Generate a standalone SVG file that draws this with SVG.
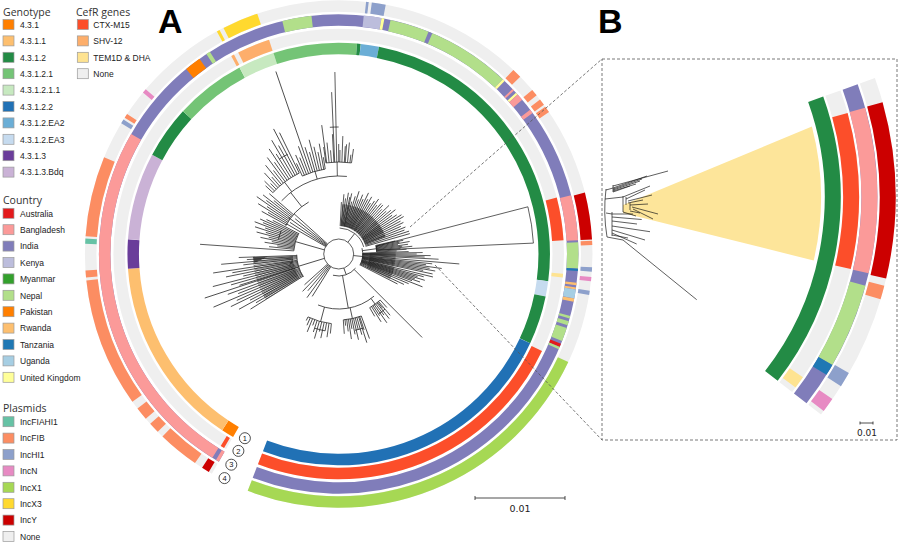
<svg xmlns="http://www.w3.org/2000/svg" width="900" height="546" viewBox="0 0 900 546">
<style>
.ttl{font-family:"Open Sans","Noto Sans",sans-serif;font-size:10.5px;fill:#333}
.lt{font-family:"Liberation Sans",Arial,sans-serif;font-size:8.5px;fill:#222}
.sw{stroke:#9a9a9a;stroke-width:0.7}
.big{font-family:"Liberation Sans",Arial,sans-serif;font-size:34px;font-weight:bold;fill:#000}
.rg circle{fill:none}
.w1 circle{stroke-width:11.5}
.w2 circle{stroke-width:16}
.g1{stroke:#ff7f00}.g2{stroke:#fdbf6f}.g3{stroke:#238b45}.g4{stroke:#74c476}.g5{stroke:#c7e9c0}.g6{stroke:#2171b5}.g7{stroke:#6baed6}.g8{stroke:#c6dbef}.g9{stroke:#6a3d9a}.g10{stroke:#cab2d6}
.ctx{stroke:#fc4e2a}.shv{stroke:#fdae6b}.tem{stroke:#fee391}.no{stroke:#efefef}
.au{stroke:#e31a1c}.bd{stroke:#fb9a99}.in{stroke:#807dba}.ke{stroke:#bcbddc}.np{stroke:#b2df8a}.pk{stroke:#ff7f00}.rw{stroke:#fdbf6f}.tz{stroke:#1f78b4}.ug{stroke:#a6cee3}.uk{stroke:#ffff99}
.fia{stroke:#66c2a5}.fib{stroke:#fc8d62}.hi1{stroke:#8da0cb}.inn{stroke:#e78ac3}.x1{stroke:#a6d854}.x3{stroke:#ffd92f}.incy{stroke:#cc0000}
.br,.br circle,.br path{fill:none;stroke:#1a1a1a;stroke-width:0.7}
.hl{fill:#fde59a;stroke:none}
.dash{fill:none;stroke:#555;stroke-width:0.8;stroke-dasharray:3 2}
.num circle{fill:#fff;stroke:#222;stroke-width:0.8}
.num text{font-family:"Liberation Sans",Arial,sans-serif;font-size:7.5px;text-anchor:middle;fill:#111}
.sc{font-family:"DejaVu Sans",sans-serif;font-size:9.5px;fill:#222;text-anchor:middle}
.scl{fill:none;stroke:#222;stroke-width:0.8}
</style>
<defs>
<clipPath id="wB"><polygon points="0,0 10.5,-149.6 90.3,-119.8 141,-51.3"/></clipPath>
<clipPath id="wC"><polygon points="0,0 149.9,-5.2 145,37 134.8,65.8"/></clipPath>
<clipPath id="wD"><polygon points="0,0 -127.2,79.5 -143,45 -149.9,5.2"/></clipPath>
</defs>
<rect width="900" height="546" fill="#fff"/>

<!-- Legend -->
<g id="legend-genotype">
<text class="ttl" x="3" y="15.5">Genotype</text>
<rect class="sw" x="3" y="19.5" width="11" height="10" fill="#ff7f00"/><text class="lt" x="20" y="27.8">4.3.1</text>
<rect class="sw" x="3" y="35.9" width="11" height="10" fill="#fdbf6f"/><text class="lt" x="20" y="44.2">4.3.1.1</text>
<rect class="sw" x="3" y="52.3" width="11" height="10" fill="#238b45"/><text class="lt" x="20" y="60.6">4.3.1.2</text>
<rect class="sw" x="3" y="68.7" width="11" height="10" fill="#74c476"/><text class="lt" x="20" y="77">4.3.1.2.1</text>
<rect class="sw" x="3" y="85.1" width="11" height="10" fill="#c7e9c0"/><text class="lt" x="20" y="93.4">4.3.1.2.1.1</text>
<rect class="sw" x="3" y="101.5" width="11" height="10" fill="#2171b5"/><text class="lt" x="20" y="109.8">4.3.1.2.2</text>
<rect class="sw" x="3" y="117.9" width="11" height="10" fill="#6baed6"/><text class="lt" x="20" y="126.2">4.3.1.2.EA2</text>
<rect class="sw" x="3" y="134.3" width="11" height="10" fill="#c6dbef"/><text class="lt" x="20" y="142.6">4.3.1.2.EA3</text>
<rect class="sw" x="3" y="150.7" width="11" height="10" fill="#6a3d9a"/><text class="lt" x="20" y="159">4.3.1.3</text>
<rect class="sw" x="3" y="167.1" width="11" height="10" fill="#cab2d6"/><text class="lt" x="20" y="175.4">4.3.1.3.Bdq</text>
</g>
<g id="legend-cefr">
<text class="ttl" x="76" y="15.5">CefR genes</text>
<rect class="sw" x="77.3" y="19.5" width="11" height="10" fill="#fc4e2a"/><text class="lt" x="93.3" y="27.8">CTX-M15</text>
<rect class="sw" x="77.3" y="35.9" width="11" height="10" fill="#fdae6b"/><text class="lt" x="93.3" y="44.2">SHV-12</text>
<rect class="sw" x="77.3" y="52.3" width="11" height="10" fill="#fee391"/><text class="lt" x="93.3" y="60.6">TEM1D &amp; DHA</text>
<rect class="sw" x="77.3" y="68.7" width="11" height="10" fill="#efefef"/><text class="lt" x="93.3" y="77">None</text>
</g>
<g id="legend-country">
<text class="ttl" x="3" y="204">Country</text>
<rect class="sw" x="3" y="208.3" width="11" height="10" fill="#e31a1c"/><text class="lt" x="20" y="216.6">Australia</text>
<rect class="sw" x="3" y="224.7" width="11" height="10" fill="#fb9a99"/><text class="lt" x="20" y="233">Bangladesh</text>
<rect class="sw" x="3" y="241.1" width="11" height="10" fill="#807dba"/><text class="lt" x="20" y="249.4">India</text>
<rect class="sw" x="3" y="257.5" width="11" height="10" fill="#bcbddc"/><text class="lt" x="20" y="265.8">Kenya</text>
<rect class="sw" x="3" y="273.9" width="11" height="10" fill="#33a02c"/><text class="lt" x="20" y="282.2">Myanmar</text>
<rect class="sw" x="3" y="290.3" width="11" height="10" fill="#b2df8a"/><text class="lt" x="20" y="298.6">Nepal</text>
<rect class="sw" x="3" y="306.7" width="11" height="10" fill="#ff7f00"/><text class="lt" x="20" y="315">Pakistan</text>
<rect class="sw" x="3" y="323.1" width="11" height="10" fill="#fdbf6f"/><text class="lt" x="20" y="331.4">Rwanda</text>
<rect class="sw" x="3" y="339.5" width="11" height="10" fill="#1f78b4"/><text class="lt" x="20" y="347.8">Tanzania</text>
<rect class="sw" x="3" y="355.9" width="11" height="10" fill="#a6cee3"/><text class="lt" x="20" y="364.2">Uganda</text>
<rect class="sw" x="3" y="372.3" width="11" height="10" fill="#ffff99"/><text class="lt" x="20" y="380.6">United Kingdom</text>
</g>
<g id="legend-plasmids">
<text class="ttl" x="3" y="412">Plasmids</text>
<rect class="sw" x="3" y="416.7" width="11" height="10" fill="#66c2a5"/><text class="lt" x="20" y="425">IncFIAHI1</text>
<rect class="sw" x="3" y="433.1" width="11" height="10" fill="#fc8d62"/><text class="lt" x="20" y="441.4">IncFIB</text>
<rect class="sw" x="3" y="449.5" width="11" height="10" fill="#8da0cb"/><text class="lt" x="20" y="457.8">IncHI1</text>
<rect class="sw" x="3" y="465.9" width="11" height="10" fill="#e78ac3"/><text class="lt" x="20" y="474.2">IncN</text>
<rect class="sw" x="3" y="482.3" width="11" height="10" fill="#a6d854"/><text class="lt" x="20" y="490.6">IncX1</text>
<rect class="sw" x="3" y="498.7" width="11" height="10" fill="#ffd92f"/><text class="lt" x="20" y="507">IncX3</text>
<rect class="sw" x="3" y="515.1" width="11" height="10" fill="#cc0000"/><text class="lt" x="20" y="523.4">IncY</text>
<rect class="sw" x="3" y="531.5" width="11" height="10" fill="#efefef"/><text class="lt" x="20" y="539.8">None</text>
</g>

<text id="label-A" class="big" x="158" y="33">A</text>
<text id="label-B" class="big" x="598" y="33">B</text>

<!-- Panel A rings -->
<g id="rings-A" class="rg w1" transform="translate(338.7 254)">
<g id="ring-genotype">
<circle r="205.5" pathLength="360" stroke-dasharray="3.5 999" transform="rotate(120)" class="g1"/>
<circle r="205.5" pathLength="360" stroke-dasharray="52.5 999" transform="rotate(123.5)" class="g2"/>
<circle r="205.5" pathLength="360" stroke-dasharray="8 999" transform="rotate(176)" class="g9"/>
<circle r="205.5" pathLength="360" stroke-dasharray="24 999" transform="rotate(184)" class="g10"/>
<circle r="205.5" pathLength="360" stroke-dasharray="14.5 999" transform="rotate(208)" class="g3"/>
<circle r="205.5" pathLength="360" stroke-dasharray="19.5 999" transform="rotate(222.5)" class="g4"/>
<circle r="205.5" pathLength="360" stroke-dasharray="10 999" transform="rotate(242)" class="g5"/>
<circle r="205.5" pathLength="360" stroke-dasharray="23 999" transform="rotate(252)" class="g4"/>
<circle r="205.5" pathLength="360" stroke-dasharray="1 999" transform="rotate(275)" class="g3"/>
<circle r="205.5" pathLength="360" stroke-dasharray="5 999" transform="rotate(276)" class="g7"/>
<circle r="205.5" pathLength="360" stroke-dasharray="86.4 999" transform="rotate(281)" class="g3"/>
<circle r="205.5" pathLength="360" stroke-dasharray="4.2 999" transform="rotate(367.4)" class="g8"/>
<circle r="205.5" pathLength="360" stroke-dasharray="13.4 999" transform="rotate(371.6)" class="g3"/>
<circle r="205.5" pathLength="360" stroke-dasharray="86 999" transform="rotate(385)" class="g6"/>
</g>
<g id="ring-cefr">
<circle r="219.5" pathLength="360" stroke-dasharray="351 999" transform="rotate(120)" class="no"/>
<circle r="219.5" pathLength="360" stroke-dasharray="1 999" transform="rotate(120.6)" class="ctx"/>
<circle r="219.5" pathLength="360" stroke-dasharray="0.8 999" transform="rotate(241.5)" class="shv"/>
<circle r="219.5" pathLength="360" stroke-dasharray="8.5 999" transform="rotate(243.5)" class="shv"/>
<circle r="219.5" pathLength="360" stroke-dasharray="11 999" transform="rotate(345.5)" class="ctx"/>
<circle r="219.5" pathLength="360" stroke-dasharray="1 999" transform="rotate(365)" class="tem"/>
<circle r="219.5" pathLength="360" stroke-dasharray="85.5 999" transform="rotate(385.5)" class="ctx"/>
</g>
<g id="ring-country">
<circle r="234" pathLength="360" stroke-dasharray="351 999" transform="rotate(120)" class="in"/>
<circle r="234" pathLength="360" stroke-dasharray="0.8 999" transform="rotate(120)" class="bd"/>
<circle r="234" pathLength="360" stroke-dasharray="88.2 999" transform="rotate(121.8)" class="bd"/>
<circle r="234" pathLength="360" stroke-dasharray="4 999" transform="rotate(230.5)" class="pk"/>
<circle r="234" pathLength="360" stroke-dasharray="1 999" transform="rotate(236.5)" class="np"/>
<circle r="234" pathLength="360" stroke-dasharray="7.1 999" transform="rotate(256.4)" class="np"/>
<circle r="234" pathLength="360" stroke-dasharray="4.3 999" transform="rotate(276)" class="ke"/>
<circle r="234" pathLength="360" stroke-dasharray="0.7 999" transform="rotate(280.3)" class="uk"/>
<circle r="234" pathLength="360" stroke-dasharray="30.7 999" transform="rotate(282.5)" class="np"/>
<circle r="234" pathLength="360" stroke-dasharray="1 999" transform="rotate(292)" class="in"/>
<circle r="234" pathLength="360" stroke-dasharray="0.6 999" transform="rotate(313.2)" class="uk"/>
<circle r="234" pathLength="360" stroke-dasharray="0.5 999" transform="rotate(316.5)" class="bd"/>
<circle r="234" pathLength="360" stroke-dasharray="0.6 999" transform="rotate(317.7)" class="uk"/>
<circle r="234" pathLength="360" stroke-dasharray="1.7 999" transform="rotate(318.3)" class="bd"/>
<circle r="234" pathLength="360" stroke-dasharray="1 999" transform="rotate(323)" class="bd"/>
<circle r="234" pathLength="360" stroke-dasharray="10.9 999" transform="rotate(345.8)" class="bd"/>
<circle r="234" pathLength="360" stroke-dasharray="6.3 999" transform="rotate(357.2)" class="np"/>
<circle r="234" pathLength="360" stroke-dasharray="0.6 999" transform="rotate(363.5)" class="tz"/>
<circle r="234" pathLength="360" stroke-dasharray="0.6 999" transform="rotate(366.9)" class="rw"/>
<circle r="234" pathLength="360" stroke-dasharray="0.5 999" transform="rotate(368)" class="rw"/>
<circle r="234" pathLength="360" stroke-dasharray="2.2 999" transform="rotate(368.5)" class="ug"/>
<circle r="234" pathLength="360" stroke-dasharray="0.8 999" transform="rotate(370.7)" class="rw"/>
<circle r="234" pathLength="360" stroke-dasharray="0.6 999" transform="rotate(375)" class="np"/>
<circle r="234" pathLength="360" stroke-dasharray="1 999" transform="rotate(376.3)" class="np"/>
<circle r="234" pathLength="360" stroke-dasharray="3.3 999" transform="rotate(378)" class="np"/>
<circle r="234" pathLength="360" stroke-dasharray="0.8 999" transform="rotate(382)" class="au"/>
<circle r="234" pathLength="360" stroke-dasharray="0.6 999" transform="rotate(382.8)" class="np"/>
</g>
<g id="ring-plasmid">
<circle r="248" pathLength="360" stroke-dasharray="351 999" transform="rotate(120)" class="no"/>
<circle r="248" pathLength="360" stroke-dasharray="1.8 999" transform="rotate(120.8)" class="incy"/>
<circle r="248" pathLength="360" stroke-dasharray="9.5 999" transform="rotate(124.5)" class="fib"/>
<circle r="248" pathLength="360" stroke-dasharray="2.5 999" transform="rotate(135.5)" class="fib"/>
<circle r="248" pathLength="360" stroke-dasharray="3 999" transform="rotate(139.5)" class="fib"/>
<circle r="248" pathLength="360" stroke-dasharray="29.6 999" transform="rotate(144.4)" class="fib"/>
<circle r="248" pathLength="360" stroke-dasharray="1.6 999" transform="rotate(174.7)" class="fib"/>
<circle r="248" pathLength="360" stroke-dasharray="1.2 999" transform="rotate(182.3)" class="fia"/>
<circle r="248" pathLength="360" stroke-dasharray="18.4 999" transform="rotate(184)" class="fib"/>
<circle r="248" pathLength="360" stroke-dasharray="1 999" transform="rotate(211)" class="hi1"/>
<circle r="248" pathLength="360" stroke-dasharray="1 999" transform="rotate(212.5)" class="fib"/>
<circle r="248" pathLength="360" stroke-dasharray="1 999" transform="rotate(219.5)" class="inn"/>
<circle r="248" pathLength="360" stroke-dasharray="0.7 999" transform="rotate(241.3)" class="x3"/>
<circle r="248" pathLength="360" stroke-dasharray="8.3 999" transform="rotate(243)" class="x3"/>
<circle r="248" pathLength="360" stroke-dasharray="0.6 999" transform="rotate(276.2)" class="hi1"/>
<circle r="248" pathLength="360" stroke-dasharray="3.2 999" transform="rotate(277.5)" class="hi1"/>
<circle r="248" pathLength="360" stroke-dasharray="2.2 999" transform="rotate(313.5)" class="fib"/>
<circle r="248" pathLength="360" stroke-dasharray="1.6 999" transform="rotate(319.7)" class="fib"/>
<circle r="248" pathLength="360" stroke-dasharray="1.5 999" transform="rotate(322.5)" class="fib"/>
<circle r="248" pathLength="360" stroke-dasharray="1.5 999" transform="rotate(324.5)" class="fib"/>
<circle r="248" pathLength="360" stroke-dasharray="10.7 999" transform="rotate(346)" class="incy"/>
<circle r="248" pathLength="360" stroke-dasharray="1 999" transform="rotate(357)" class="fib"/>
<circle r="248" pathLength="360" stroke-dasharray="1 999" transform="rotate(363)" class="hi1"/>
<circle r="248" pathLength="360" stroke-dasharray="1 999" transform="rotate(365.2)" class="inn"/>
<circle r="248" pathLength="360" stroke-dasharray="1 999" transform="rotate(368.3)" class="hi1"/>
<circle r="248" pathLength="360" stroke-dasharray="85.8 999" transform="rotate(385.2)" class="x1"/>
</g>
</g>

<!-- Panel A tree -->
<g id="tree-A" class="br" transform="translate(338.7 254)">
<path class="hl" d="M38,-8 L189.2,-47.2 A195 195 0 0 1 194.7,-10.9 L38,-4 Z"/>
<circle r="15"/>
<!-- clade A bundle -->
<g style="stroke-width:1.1">
<path transform="rotate(-150)" d="M15 0H60"/><path transform="rotate(-147)" d="M15 0H58"/><path transform="rotate(-144)" d="M15 0H62"/><path transform="rotate(-141)" d="M15 0H56"/><path transform="rotate(-138)" d="M15 0H60"/>
</g>
<circle r="60" pathLength="360" stroke-dasharray="32 999" transform="rotate(-152)"/>
<path transform="rotate(-151)" d="M60 0H88"/><path transform="rotate(-149.5)" d="M60 0H82"/><path transform="rotate(-148)" d="M60 0H95"/><path transform="rotate(-146.5)" d="M60 0H86"/><path transform="rotate(-145)" d="M60 0H100"/><path transform="rotate(-143.5)" d="M60 0H90"/><path transform="rotate(-142)" d="M60 0H96"/><path transform="rotate(-140.5)" d="M60 0H84"/><path transform="rotate(-139)" d="M60 0H92"/>
<path transform="rotate(-128)" d="M60 0H78"/>
<circle r="78" pathLength="360" stroke-dasharray="53 999" transform="rotate(-137)"/>
<path transform="rotate(-127)" d="M78 0H90"/>
<circle r="90" pathLength="360" stroke-dasharray="21 999" transform="rotate(-137)"/>
<path transform="rotate(-137)" d="M90 0H100"/><path transform="rotate(-135.5)" d="M90 0H104"/><path transform="rotate(-134)" d="M90 0H98"/><path transform="rotate(-132.5)" d="M90 0H110"/><path transform="rotate(-131)" d="M90 0H102"/><path transform="rotate(-129.5)" d="M90 0H115"/><path transform="rotate(-128)" d="M90 0H106"/><path transform="rotate(-126.5)" d="M90 0H120"/><path transform="rotate(-125)" d="M90 0H112"/><path transform="rotate(-123.5)" d="M90 0H126"/><path transform="rotate(-122)" d="M90 0H118"/><path transform="rotate(-120.5)" d="M90 0H132"/><path transform="rotate(-119)" d="M90 0H124"/><path transform="rotate(-117.5)" d="M90 0H141"/><path transform="rotate(-116)" d="M90 0H135"/>
<circle r="112" pathLength="360" stroke-dasharray="5 999" transform="rotate(-122)"/>
<path transform="rotate(-106)" d="M78 0H86"/>
<circle r="86" pathLength="360" stroke-dasharray="16 999" transform="rotate(-115)"/>
<path transform="rotate(-115)" d="M86 0H100"/><path transform="rotate(-113.5)" d="M86 0H108"/><path transform="rotate(-112)" d="M86 0H104"/><path transform="rotate(-110.5)" d="M86 0H115"/><path transform="rotate(-109)" d="M86 0H193"/><path transform="rotate(-107.5)" d="M86 0H112"/><path transform="rotate(-106)" d="M86 0H106"/><path transform="rotate(-104.5)" d="M86 0H118"/><path transform="rotate(-103)" d="M86 0H110"/><path transform="rotate(-101.5)" d="M86 0H104"/><path transform="rotate(-100)" d="M86 0H112"/><path transform="rotate(-99)" d="M86 0H98"/>
<path transform="rotate(-91)" d="M78 0H92"/>
<circle r="92" pathLength="360" stroke-dasharray="16 999" transform="rotate(-98)"/>
<path transform="rotate(-98)" d="M92 0H108"/><path transform="rotate(-97.5)" d="M92 0H130"/><path transform="rotate(-96)" d="M92 0H112"/><path transform="rotate(-94.5)" d="M92 0H104"/><path transform="rotate(-93)" d="M92 0H120"/><path transform="rotate(-92.5)" d="M92 0H162"/><path transform="rotate(-91.2)" d="M92 0H182"/><path transform="rotate(-90)" d="M92 0H110"/><path transform="rotate(-89.3)" d="M92 0H104"/><path transform="rotate(-88)" d="M92 0H118"/><path transform="rotate(-86.5)" d="M92 0H108"/><path transform="rotate(-85.9)" d="M92 0H110"/><path transform="rotate(-84.5)" d="M92 0H112"/><path transform="rotate(-83)" d="M92 0H100"/><path transform="rotate(-82)" d="M92 0H106"/>
<circle r="127" pathLength="360" stroke-dasharray="4 999" transform="rotate(-94)"/>
<!-- clade D upper -->
<path transform="rotate(-164)" d="M15 0H45"/>
<circle r="45" pathLength="360" stroke-dasharray="24 999" transform="rotate(-176)"/>
<path transform="rotate(-176)" d="M45 0H139"/><path transform="rotate(-174)" d="M45 0H70"/><path transform="rotate(-172.5)" d="M45 0H62"/><path transform="rotate(-171)" d="M45 0H75"/><path transform="rotate(-169.5)" d="M45 0H68"/><path transform="rotate(-168)" d="M45 0H80"/><path transform="rotate(-166.5)" d="M45 0H72"/><path transform="rotate(-165)" d="M45 0H85"/><path transform="rotate(-163.5)" d="M45 0H76"/><path transform="rotate(-162)" d="M45 0H88"/><path transform="rotate(-160.5)" d="M45 0H78"/><path transform="rotate(-159)" d="M45 0H90"/><path transform="rotate(-157.5)" d="M45 0H82"/><path transform="rotate(-156)" d="M45 0H86"/><path transform="rotate(-154.5)" d="M45 0H80"/><path transform="rotate(-153)" d="M45 0H74"/>
<circle r="62" pathLength="360" stroke-dasharray="8 999" transform="rotate(-166)"/>
<!-- clade D lower -->
<path transform="rotate(163)" d="M15 0H42"/>
<circle r="42" pathLength="360" stroke-dasharray="32 999" transform="rotate(147)"/>
<circle r="66" pathLength="360" stroke-dasharray="0.45 0.55" style="stroke-width:40;stroke:#555" clip-path="url(#wD)"/>
<path transform="rotate(178)" d="M42 0H100"/><path transform="rotate(176.5)" d="M42 0H92"/><path transform="rotate(175)" d="M42 0H118"/><path transform="rotate(173.5)" d="M42 0H96"/><path transform="rotate(171.4)" d="M42 0H127"/><path transform="rotate(170)" d="M42 0H108"/><path transform="rotate(168.5)" d="M42 0H115"/><path transform="rotate(167)" d="M42 0H98"/><path transform="rotate(165.5)" d="M42 0H130"/><path transform="rotate(164)" d="M42 0H112"/><path transform="rotate(162.5)" d="M42 0H104"/><path transform="rotate(161.8)" d="M42 0H141"/><path transform="rotate(160)" d="M42 0H118"/><path transform="rotate(158.5)" d="M42 0H108"/><path transform="rotate(157)" d="M42 0H136"/><path transform="rotate(155.5)" d="M42 0H112"/><path transform="rotate(154)" d="M42 0H120"/><path transform="rotate(152.5)" d="M42 0H100"/><path transform="rotate(151)" d="M42 0H114"/><path transform="rotate(149.5)" d="M42 0H96"/><path transform="rotate(148)" d="M42 0H104"/>
<!-- lower-left bundle -->
<g style="stroke-width:1.1">
<path transform="rotate(122)" d="M15 0H50"/><path transform="rotate(126)" d="M15 0H54"/><path transform="rotate(130)" d="M15 0H48"/><path transform="rotate(134)" d="M15 0H52"/><path transform="rotate(138)" d="M15 0H46"/>
</g>
<!-- clade B -->
<path transform="rotate(-52)" d="M15 0H26"/>
<circle r="26" pathLength="360" stroke-dasharray="72 999" transform="rotate(-88)"/>
<circle r="39" pathLength="360" stroke-dasharray="0.5 0.5" style="stroke-width:22;stroke:#222" clip-path="url(#wB)"/>
<path transform="rotate(-87)" d="M28 0H52"/><path transform="rotate(-85)" d="M28 0H60"/><path transform="rotate(-83)" d="M28 0H56"/><path transform="rotate(-81)" d="M28 0H62"/><path transform="rotate(-79)" d="M28 0H58"/><path transform="rotate(-77.9)" d="M28 0H62"/><path transform="rotate(-76)" d="M28 0H54"/><path transform="rotate(-74)" d="M28 0H60"/><path transform="rotate(-72)" d="M28 0H66"/><path transform="rotate(-70)" d="M28 0H58"/><path transform="rotate(-68)" d="M28 0H64"/><path transform="rotate(-66)" d="M28 0H60"/><path transform="rotate(-64)" d="M28 0H68"/><path transform="rotate(-62)" d="M28 0H62"/><path transform="rotate(-60)" d="M28 0H66"/><path transform="rotate(-58)" d="M28 0H60"/><path transform="rotate(-56)" d="M28 0H64"/><path transform="rotate(-54)" d="M28 0H68"/><path transform="rotate(-52)" d="M28 0H62"/><path transform="rotate(-50)" d="M28 0H66"/><path transform="rotate(-48)" d="M28 0H66"/><path transform="rotate(-46)" d="M28 0H62"/><path transform="rotate(-44)" d="M28 0H70"/><path transform="rotate(-42)" d="M28 0H64"/><path transform="rotate(-40)" d="M28 0H68"/><path transform="rotate(-38)" d="M28 0H72"/><path transform="rotate(-36)" d="M28 0H66"/><path transform="rotate(-34)" d="M28 0H70"/><path transform="rotate(-32)" d="M28 0H74"/><path transform="rotate(-30)" d="M28 0H75"/><path transform="rotate(-28)" d="M28 0H70"/><path transform="rotate(-26)" d="M28 0H72"/><path transform="rotate(-24)" d="M28 0H68"/><path transform="rotate(-22)" d="M28 0H72"/><path transform="rotate(-20)" d="M28 0H70"/><path transform="rotate(-18)" d="M28 0H74"/><path transform="rotate(-16)" d="M28 0H74"/>
<!-- clade C -->
<path transform="rotate(6)" d="M15 0H24"/>
<circle r="24" pathLength="360" stroke-dasharray="42 999" transform="rotate(-14)"/>
<path transform="rotate(-8)" d="M24 0H38"/>
<circle r="38" pathLength="360" stroke-dasharray="10 999" transform="rotate(-13)"/>
<path transform="rotate(-13)" d="M38 0H58"/><path transform="rotate(-12)" d="M38 0H66"/><path transform="rotate(-11)" d="M38 0H62"/><path transform="rotate(-10)" d="M38 0H72"/><path transform="rotate(-9)" d="M38 0H60"/><path transform="rotate(-8)" d="M38 0H70"/><path transform="rotate(-7)" d="M38 0H64"/><path transform="rotate(-6)" d="M38 0H74"/><path transform="rotate(-5)" d="M38 0H62"/><path transform="rotate(-4)" d="M38 0H68"/><path transform="rotate(-3)" d="M38 0H58"/>
<circle r="44" pathLength="360" stroke-dasharray="0.5 0.6" style="stroke-width:26;stroke:#333" clip-path="url(#wC)"/>
<path transform="rotate(-2)" d="M24 0H70"/><path transform="rotate(-1)" d="M24 0H84"/><path transform="rotate(0)" d="M24 0H78"/><path transform="rotate(1)" d="M24 0H92"/><path transform="rotate(2)" d="M24 0H86"/><path transform="rotate(3)" d="M24 0H100"/><path transform="rotate(4.7)" d="M24 0H121"/><path transform="rotate(6)" d="M24 0H94"/><path transform="rotate(7)" d="M24 0H88"/><path transform="rotate(8)" d="M24 0H104"/><path transform="rotate(9)" d="M24 0H92"/><path transform="rotate(10)" d="M24 0H98"/><path transform="rotate(11)" d="M24 0H86"/><path transform="rotate(12)" d="M24 0H96"/><path transform="rotate(13.7)" d="M24 0H97"/><path transform="rotate(15)" d="M24 0H88"/><path transform="rotate(16)" d="M24 0H82"/><path transform="rotate(17)" d="M24 0H90"/><path transform="rotate(18)" d="M24 0H80"/><path transform="rotate(19)" d="M24 0H86"/><path transform="rotate(20)" d="M24 0H78"/><path transform="rotate(21.4)" d="M24 0H90"/><path transform="rotate(23)" d="M24 0H76"/><path transform="rotate(25)" d="M24 0H72"/><path transform="rotate(27)" d="M24 0H66"/>
<!-- clade E -->
<path transform="rotate(70)" d="M15 0H22"/>
<circle r="22" pathLength="360" stroke-dasharray="65 999" transform="rotate(40)"/>
<path transform="rotate(45)" d="M22 0H118"/>
<path transform="rotate(80)" d="M22 0H55"/>
<circle r="55" pathLength="360" stroke-dasharray="62 999" transform="rotate(50)"/>
<path transform="rotate(54)" d="M55 0H62"/>
<circle r="62" pathLength="360" stroke-dasharray="12 999" transform="rotate(48)"/>
<path transform="rotate(48)" d="M62 0H72"/><path transform="rotate(50)" d="M62 0H80"/><path transform="rotate(51)" d="M62 0H70"/><path transform="rotate(52)" d="M62 0H82"/><path transform="rotate(53.5)" d="M62 0H76"/><path transform="rotate(55)" d="M62 0H84"/><path transform="rotate(56.5)" d="M62 0H74"/><path transform="rotate(58)" d="M62 0H80"/><path transform="rotate(60)" d="M62 0H72"/>
<circle r="72" pathLength="360" stroke-dasharray="6 999" transform="rotate(50)"/>
<path transform="rotate(78)" d="M55 0H66"/>
<circle r="66" pathLength="360" stroke-dasharray="16 999" transform="rotate(70)"/>
<path transform="rotate(70)" d="M66 0H90"/><path transform="rotate(71.5)" d="M66 0H80"/><path transform="rotate(72.4)" d="M66 0H93"/><path transform="rotate(74)" d="M66 0H84"/><path transform="rotate(75.5)" d="M66 0H78"/><path transform="rotate(77)" d="M66 0H88"/><path transform="rotate(78.5)" d="M66 0H82"/><path transform="rotate(80)" d="M66 0H76"/><path transform="rotate(81.5)" d="M66 0H86"/><path transform="rotate(83)" d="M66 0H78"/><path transform="rotate(84.5)" d="M66 0H72"/><path transform="rotate(86)" d="M66 0H80"/>
<circle r="78" pathLength="360" stroke-dasharray="6 999" transform="rotate(72)"/>
<path transform="rotate(105)" d="M55 0H70"/>
<circle r="70" pathLength="360" stroke-dasharray="20 999" transform="rotate(96)"/>
<path transform="rotate(96)" d="M70 0H80"/><path transform="rotate(98)" d="M70 0H84"/><path transform="rotate(100)" d="M70 0H78"/><path transform="rotate(102)" d="M70 0H86"/><path transform="rotate(104)" d="M70 0H80"/><path transform="rotate(106)" d="M70 0H88"/><path transform="rotate(108)" d="M70 0H82"/><path transform="rotate(110)" d="M70 0H76"/><path transform="rotate(112)" d="M70 0H84"/><path transform="rotate(114)" d="M70 0H78"/><path transform="rotate(116)" d="M70 0H74"/>
<circle r="78" pathLength="360" stroke-dasharray="8 999" transform="rotate(100)"/>
</g>

<!-- ring index markers -->
<g id="markers" class="num">
<g id="m1"><circle cx="244.9" cy="438.2" r="5.5"/><text x="244.9" y="440.9">1</text></g>
<g id="m2"><circle cx="238.4" cy="450.9" r="5.5"/><text x="238.4" y="453.6">2</text></g>
<g id="m3"><circle cx="231.3" cy="464.7" r="5.5"/><text x="231.3" y="467.4">3</text></g>
<g id="m4"><circle cx="224.5" cy="478.1" r="5.5"/><text x="224.5" y="480.8">4</text></g>
</g>

<g id="scale-A">
<path class="scl" d="M475 498H565M475 496V500M565 496V500"/>
<text class="sc" x="520" y="512">0.01</text>
</g>

<!-- Panel B -->
<g id="panel-B">
<path class="hl" d="M623,205 L811.9,126.5 A279 279 0 0 1 813.7,260.5 L623,213 Z"/>
<g id="rings-B" class="rg w2" transform="translate(542 197.3)">
<circle r="290.7" pathLength="360" stroke-dasharray="57.6 999" transform="rotate(-19.7)" class="g3"/>
<circle r="309" pathLength="360" stroke-dasharray="57.6 999" transform="rotate(-19.7)" class="no"/>
<circle r="309" pathLength="360" stroke-dasharray="28.5 999" transform="rotate(-15.4)" class="ctx"/>
<circle r="309" pathLength="360" stroke-dasharray="2.3 999" transform="rotate(34.6)" class="tem"/>
<circle r="327.3" pathLength="360" stroke-dasharray="57.6 999" transform="rotate(-19.7)" class="in"/>
<circle r="327.3" pathLength="360" stroke-dasharray="28.6 999" transform="rotate(-15.5)" class="bd"/>
<circle r="327.3" pathLength="360" stroke-dasharray="14.7 999" transform="rotate(15.3)" class="np"/>
<circle r="327.3" pathLength="360" stroke-dasharray="2 999" transform="rotate(30)" class="tz"/>
<circle r="345.6" pathLength="360" stroke-dasharray="57.6 999" transform="rotate(-19.7)" class="no"/>
<circle r="345.6" pathLength="360" stroke-dasharray="28.9 999" transform="rotate(-15.6)" class="incy"/>
<circle r="345.6" pathLength="360" stroke-dasharray="2.3 999" transform="rotate(14.5)" class="fib"/>
<circle r="345.6" pathLength="360" stroke-dasharray="2.5 999" transform="rotate(29.8)" class="hi1"/>
<circle r="345.6" pathLength="360" stroke-dasharray="2.4 999" transform="rotate(34.8)" class="inn"/>
</g>
<g id="tree-B" class="br">
<path d="M606,189 Q603,213 607,237"/>
<path d="M606,190 L613,188 M613,185 V192 M613,186 L668,171 M613,188 L647,176 M613,189 L642,179 M613,190 L640,181 M613,191 L636,184 M613,192 L630,186"/>
<path d="M605,199 L623,197 M623,196 V212 M623,197 L650,186 M626,199 L645,190 M626,197 V205 M628,201 L652,195 M628,203 L643,200 M630,205 L648,204 M630,203 V210 M632,207 L658,214 M633,209 L653,219 M630,211 L640,213 M623,212 L636,216"/>
<path d="M606,213 L612,214 M612,212 V236 M612,214 L633,214 M612,217 L641.7,219.5 M612,221 L637,224 M612,226 L650,231.7 M612,230 L645,240 M612,233 L636.7,244 M612,235 L628,238"/>
<path d="M607,237 L623,240 L696.7,299.7"/>
</g>
<g id="scale-B">
<path class="scl" d="M860 423H873M860 421.5V424.5M873 421.5V424.5"/>
<text class="sc" x="867" y="435.5" style="font-size:9px">0.01</text>
</g>
</g>

<!-- connectors -->
<g id="connectors">
<rect class="dash" x="602" y="59" width="295" height="381"/>
<path class="dash" d="M410 227L602 59"/>
<path class="dash" d="M435 265L602 440"/>
</g>
</svg>
